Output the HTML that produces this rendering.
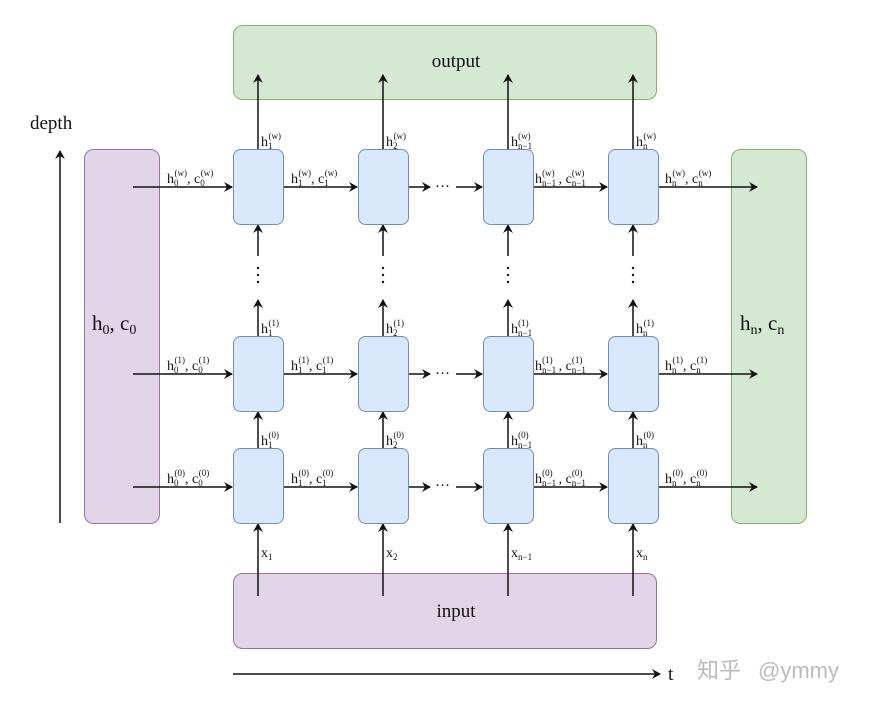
<!DOCTYPE html>
<html><head><meta charset="utf-8"><style>
html,body{margin:0;padding:0;background:#fff;}
svg{display:block;}
.l{font-family:"Liberation Serif",serif;font-size:14px;fill:#111;}
.s{font-size:9px;}
.big{font-family:"Liberation Serif",serif;font-size:21px;fill:#111;}
.m{font-family:"Liberation Serif",serif;font-size:19px;fill:#111;}
</style></head><body>
<svg width="894" height="707" viewBox="0 0 894 707" xmlns="http://www.w3.org/2000/svg">
<defs><marker id="a" markerWidth="10" markerHeight="10" refX="8" refY="5" orient="auto" markerUnits="userSpaceOnUse"><path d="M0,0 L9,5 L0,10 L3,5 Z" fill="#111"/></marker></defs>
<rect width="894" height="707" fill="#fff"/>
<rect x="233.5" y="25.5" width="423" height="74" rx="9" fill="#d5e8d4" stroke="#82b366"/>
<text x="456" y="67" class="m" text-anchor="middle">output</text>
<rect x="84.5" y="149.5" width="75" height="374" rx="9" fill="#e1d5e7" stroke="#9673a6"/>
<text x="92" y="330" class="big">h<tspan font-size="14" dy="4">0</tspan><tspan dy="-4">, c</tspan><tspan font-size="14" dy="4">0</tspan></text>
<rect x="731.5" y="149.5" width="75" height="374" rx="9" fill="#d5e8d4" stroke="#82b366"/>
<text x="740" y="330" class="big">h<tspan font-size="14" dy="4">n</tspan><tspan dy="-4">, c</tspan><tspan font-size="14" dy="4">n</tspan></text>
<rect x="233.5" y="573.5" width="423" height="75" rx="9" fill="#e1d5e7" stroke="#9673a6"/>
<text x="456" y="617" class="m" text-anchor="middle">input</text>
<line x1="60" y1="523" x2="60" y2="151" stroke="#111" stroke-width="1.5" marker-end="url(#a)"/>
<text x="30" y="129" class="m" font-size="18">depth</text>
<line x1="233" y1="674" x2="660" y2="674" stroke="#111" stroke-width="1.5" marker-end="url(#a)"/>
<text x="668" y="680" class="m">t</text>
<text x="697" y="678" font-family="'Noto Sans CJK SC',sans-serif" font-size="22" fill="#bbb">知乎</text>
<text x="758" y="678" font-family="'Liberation Sans',sans-serif" font-size="22" fill="#bbb">@ymmy</text>
<g stroke="#111" stroke-width="1.5" fill="none">
<line x1="258" y1="150" x2="258" y2="75" marker-end="url(#a)"/>
<line x1="383" y1="150" x2="383" y2="75" marker-end="url(#a)"/>
<line x1="508" y1="150" x2="508" y2="75" marker-end="url(#a)"/>
<line x1="633" y1="150" x2="633" y2="75" marker-end="url(#a)"/>
<g id="v">
<line x1="258" y1="256" x2="258" y2="225" marker-end="url(#a)"/>
<line x1="258" y1="337" x2="258" y2="300" marker-end="url(#a)"/>
<line x1="258" y1="449" x2="258" y2="412" marker-end="url(#a)"/>
<line x1="258" y1="596" x2="258" y2="524" marker-end="url(#a)"/>
</g>
<use href="#v" x="125"/><use href="#v" x="250"/><use href="#v" x="375"/>
<g id="h">
<line x1="133" y1="187" x2="232" y2="187" marker-end="url(#a)"/>
<line x1="283" y1="187" x2="357" y2="187" marker-end="url(#a)"/>
<line x1="408" y1="187" x2="430" y2="187" marker-end="url(#a)"/>
<line x1="456" y1="187" x2="482" y2="187" marker-end="url(#a)"/>
<line x1="533" y1="187" x2="607" y2="187" marker-end="url(#a)"/>
<line x1="658" y1="187" x2="757" y2="187" marker-end="url(#a)"/>
</g>
<use href="#h" y="187"/><use href="#h" y="300"/>
</g>
<g fill="#dae8fc" stroke="#6c8ebf">
<g id="c">
<rect x="233.5" y="149.5" width="50" height="75" rx="7"/>
<rect x="233.5" y="336.5" width="50" height="75" rx="7"/>
<rect x="233.5" y="448.5" width="50" height="75" rx="7"/>
</g>
<use href="#c" x="125"/><use href="#c" x="250"/><use href="#c" x="375"/>
</g>
<g fill="#111" font-family="'Liberation Serif',serif" font-size="15">
<text x="435" y="191">···</text><text x="435" y="378">···</text><text x="435" y="490">···</text>
</g>
<g fill="#111">
<g id="d"><circle cx="258" cy="268" r="1.2"/><circle cx="258" cy="275" r="1.2"/><circle cx="258" cy="282" r="1.2"/></g>
<use href="#d" x="125"/><use href="#d" x="250"/><use href="#d" x="375"/>
</g>
<g class="l">
<text x="261" y="146">h<tspan class="s" dy="3">1</tspan><tspan class="s" dx="-4" dy="-10">(w)</tspan></text>
<text x="386" y="146">h<tspan class="s" dy="3">2</tspan><tspan class="s" dx="-4" dy="-10">(w)</tspan></text>
<text x="511" y="146">h<tspan class="s" dy="3">n−1</tspan><tspan class="s" dx="-14" dy="-10">(w)</tspan></text>
<text x="636" y="146">h<tspan class="s" dy="3">n</tspan><tspan class="s" dx="-4" dy="-10">(w)</tspan></text>
<text x="261" y="333">h<tspan class="s" dy="3">1</tspan><tspan class="s" dx="-4" dy="-10">(1)</tspan></text>
<text x="386" y="333">h<tspan class="s" dy="3">2</tspan><tspan class="s" dx="-4" dy="-10">(1)</tspan></text>
<text x="511" y="333">h<tspan class="s" dy="3">n−1</tspan><tspan class="s" dx="-14" dy="-10">(1)</tspan></text>
<text x="636" y="333">h<tspan class="s" dy="3">n</tspan><tspan class="s" dx="-4" dy="-10">(1)</tspan></text>
<text x="261" y="445">h<tspan class="s" dy="3">1</tspan><tspan class="s" dx="-4" dy="-10">(0)</tspan></text>
<text x="386" y="445">h<tspan class="s" dy="3">2</tspan><tspan class="s" dx="-4" dy="-10">(0)</tspan></text>
<text x="511" y="445">h<tspan class="s" dy="3">n−1</tspan><tspan class="s" dx="-14" dy="-10">(0)</tspan></text>
<text x="636" y="445">h<tspan class="s" dy="3">n</tspan><tspan class="s" dx="-4" dy="-10">(0)</tspan></text>
<text x="261" y="557">x<tspan class="s" dy="3">1</tspan></text>
<text x="386" y="557">x<tspan class="s" dy="3">2</tspan></text>
<text x="511" y="557">x<tspan class="s" dy="3">n−1</tspan></text>
<text x="636" y="557">x<tspan class="s" dy="3">n</tspan></text>
</g>
<g class="l">
<text x="167" y="183">h<tspan class="s" dy="3">0</tspan><tspan class="s" dx="-4" dy="-10">(w)</tspan><tspan dy="7">, c</tspan><tspan class="s" dy="3">0</tspan><tspan class="s" dx="-4" dy="-10">(w)</tspan></text>
<text x="291" y="183">h<tspan class="s" dy="3">1</tspan><tspan class="s" dx="-4" dy="-10">(w)</tspan><tspan dy="7">, c</tspan><tspan class="s" dy="3">1</tspan><tspan class="s" dx="-4" dy="-10">(w)</tspan></text>
<text x="535" y="183">h<tspan class="s" dy="3">n−1</tspan><tspan class="s" dx="-14" dy="-10">(w)</tspan><tspan dx="4" dy="7">, c</tspan><tspan class="s" dy="3">n−1</tspan><tspan class="s" dx="-14" dy="-10">(w)</tspan></text>
<text x="665" y="183">h<tspan class="s" dy="3">n</tspan><tspan class="s" dx="-4" dy="-10">(w)</tspan><tspan dy="7">, c</tspan><tspan class="s" dy="3">n</tspan><tspan class="s" dx="-4" dy="-10">(w)</tspan></text>

<text x="167" y="370">h<tspan class="s" dy="3">0</tspan><tspan class="s" dx="-4" dy="-10">(1)</tspan><tspan dy="7">, c</tspan><tspan class="s" dy="3">0</tspan><tspan class="s" dx="-4" dy="-10">(1)</tspan></text>
<text x="291" y="370">h<tspan class="s" dy="3">1</tspan><tspan class="s" dx="-4" dy="-10">(1)</tspan><tspan dy="7">, c</tspan><tspan class="s" dy="3">1</tspan><tspan class="s" dx="-4" dy="-10">(1)</tspan></text>
<text x="535" y="370">h<tspan class="s" dy="3">n−1</tspan><tspan class="s" dx="-14" dy="-10">(1)</tspan><tspan dx="6" dy="7">, c</tspan><tspan class="s" dy="3">n−1</tspan><tspan class="s" dx="-14" dy="-10">(1)</tspan></text>
<text x="665" y="370">h<tspan class="s" dy="3">n</tspan><tspan class="s" dx="-4" dy="-10">(1)</tspan><tspan dy="7">, c</tspan><tspan class="s" dy="3">n</tspan><tspan class="s" dx="-4" dy="-10">(1)</tspan></text>

<text x="167" y="483">h<tspan class="s" dy="3">0</tspan><tspan class="s" dx="-4" dy="-10">(0)</tspan><tspan dy="7">, c</tspan><tspan class="s" dy="3">0</tspan><tspan class="s" dx="-4" dy="-10">(0)</tspan></text>
<text x="291" y="483">h<tspan class="s" dy="3">1</tspan><tspan class="s" dx="-4" dy="-10">(0)</tspan><tspan dy="7">, c</tspan><tspan class="s" dy="3">1</tspan><tspan class="s" dx="-4" dy="-10">(0)</tspan></text>
<text x="535" y="483">h<tspan class="s" dy="3">n−1</tspan><tspan class="s" dx="-14" dy="-10">(0)</tspan><tspan dx="6" dy="7">, c</tspan><tspan class="s" dy="3">n−1</tspan><tspan class="s" dx="-14" dy="-10">(0)</tspan></text>
<text x="665" y="483">h<tspan class="s" dy="3">n</tspan><tspan class="s" dx="-4" dy="-10">(0)</tspan><tspan dy="7">, c</tspan><tspan class="s" dy="3">n</tspan><tspan class="s" dx="-4" dy="-10">(0)</tspan></text>
</g>
</svg>
</body></html>
